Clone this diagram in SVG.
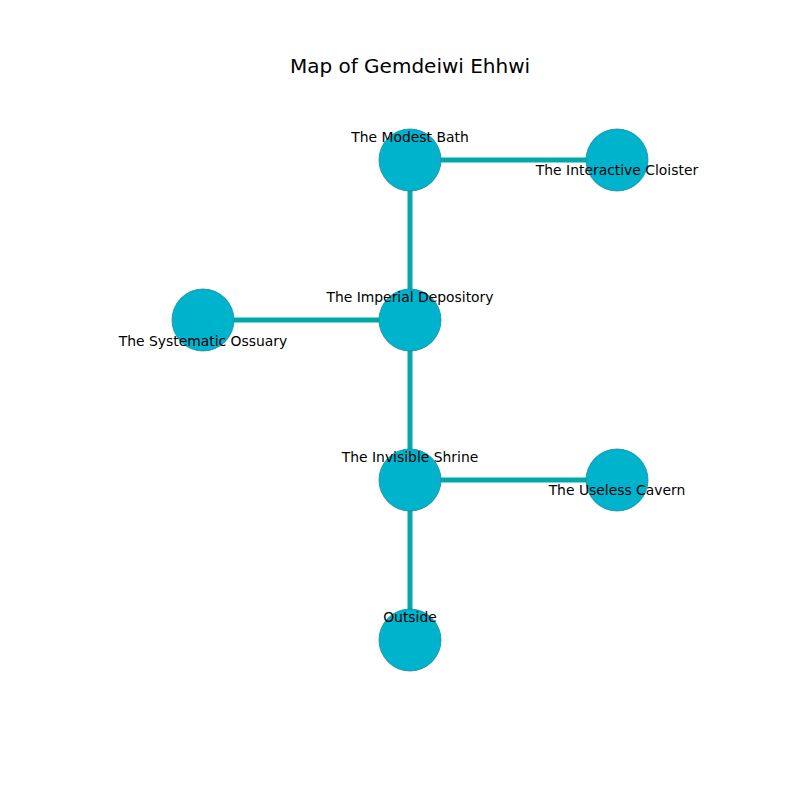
<svg xmlns="http://www.w3.org/2000/svg" width="800" height="800" viewBox="0 0 800 800">
<style>
.edge{stroke:#00a9a9;stroke-width:5;fill:none}
.node circle{fill:#00b3cc;stroke:#1a8a9a;stroke-width:0.8}
text{font-family:"DejaVu Sans",sans-serif;fill:#000}
.lbl{font-size:13.9px;text-anchor:middle;dominant-baseline:central}
.title{font-size:20px;text-anchor:middle;dominant-baseline:central}
</style>
<rect width="800" height="800" fill="#fff"/>
<text class="title" x="410" y="66">Map of Gemdeiwi Ehhwi</text>
<g id="edges">
<line class="edge" x1="410" y1="160" x2="617" y2="160"/>
<line class="edge" x1="410" y1="160" x2="410" y2="320"/>
<line class="edge" x1="203" y1="320" x2="410" y2="320"/>
<line class="edge" x1="410" y1="320" x2="410" y2="480"/>
<line class="edge" x1="410" y1="480" x2="617" y2="480"/>
<line class="edge" x1="410" y1="480" x2="410" y2="640"/>
</g>
<g id="n-modest-bath" class="node"><circle cx="410" cy="160" r="31"/><text class="lbl" x="410" y="137">The Modest Bath</text></g>
<g id="n-interactive-cloister" class="node"><circle cx="617" cy="160" r="31"/><text class="lbl" x="617" y="170">The Interactive Cloister</text></g>
<g id="n-imperial-depository" class="node"><circle cx="410" cy="320" r="31"/><text class="lbl" x="410" y="297">The Imperial Depository</text></g>
<g id="n-systematic-ossuary" class="node"><circle cx="203" cy="320" r="31"/><text class="lbl" x="203" y="341">The Systematic Ossuary</text></g>
<g id="n-invisible-shrine" class="node"><circle cx="410" cy="480" r="31"/><text class="lbl" x="410" y="457">The Invisible Shrine</text></g>
<g id="n-useless-cavern" class="node"><circle cx="617" cy="480" r="31"/><text class="lbl" x="617" y="490">The Useless Cavern</text></g>
<g id="n-outside" class="node"><circle cx="410" cy="640" r="31"/><text class="lbl" x="410" y="617">Outside</text></g>
</svg>
